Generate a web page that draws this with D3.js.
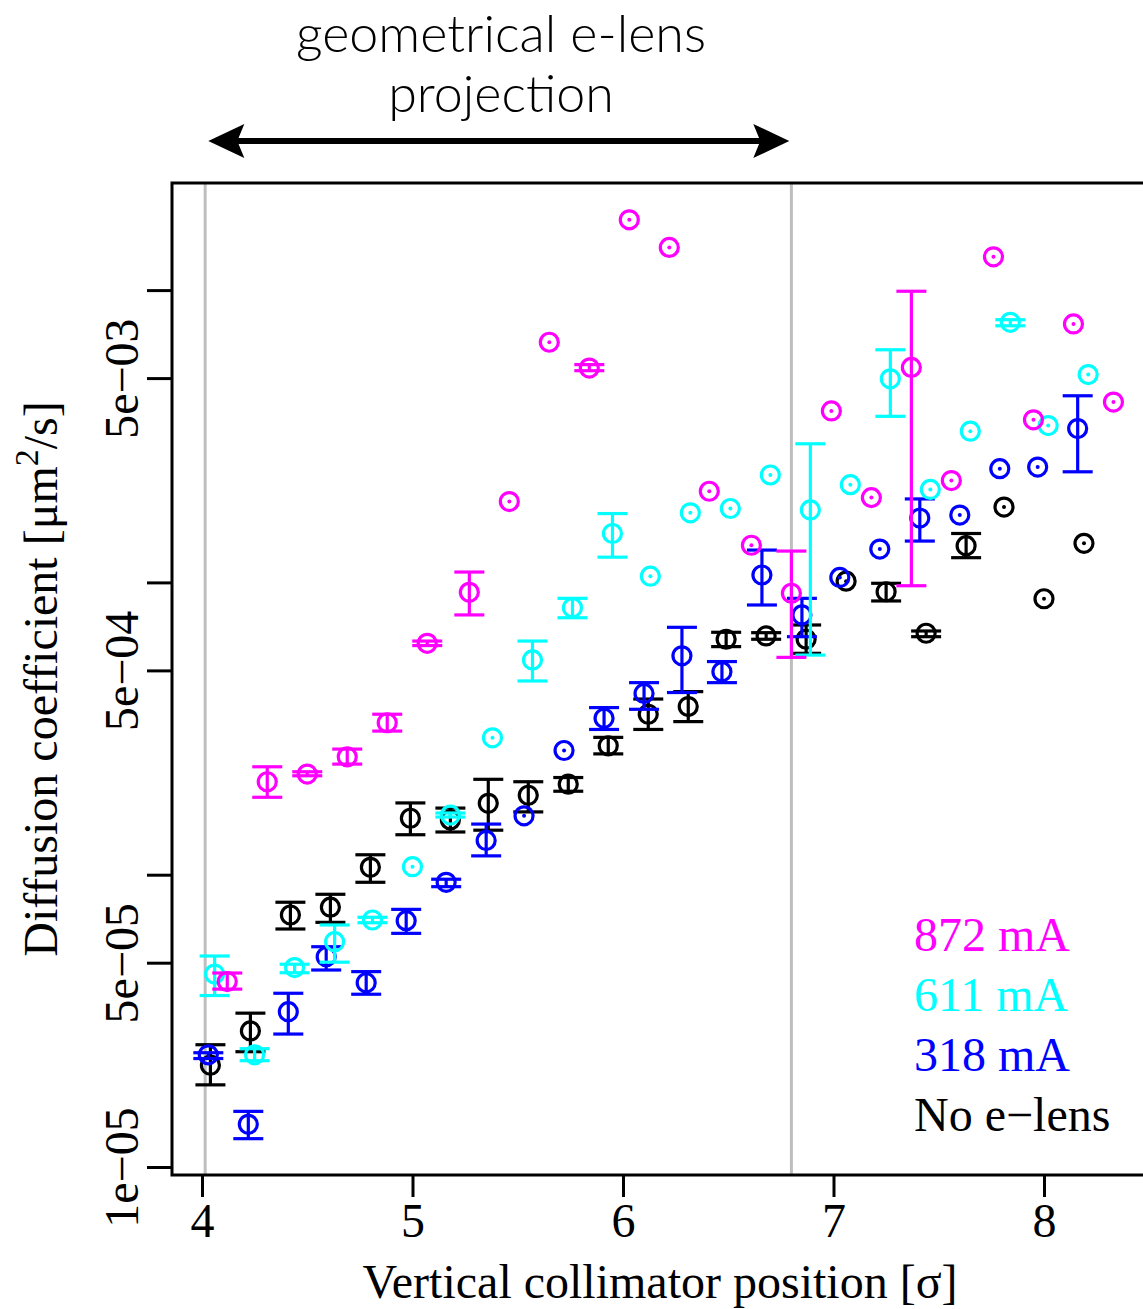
<!DOCTYPE html>
<html><head><meta charset="utf-8">
<script src="https://cdn.jsdelivr.net/npm/d3@7/dist/d3.min.js"></script>
<style>body{margin:0;background:#fff}</style>
</head><body>
<svg id="c" width="1143" height="1309"></svg>
<script>
// ---- Data ----
const xTicks = [4, 5, 6, 7, 8];
const yTicks = [1e-5, 5e-5, 1e-4, 5e-4, 1e-3, 5e-3, 1e-2];
const yTickLabels = ["1e\u221205", "5e\u221205", "", "5e\u221204", "", "5e\u221203", ""];
const lensEdges = [4.015, 6.80];
const arrowSpan = [4.03, 6.79];

const magentaX  = [4.12,4.31,4.50,4.69,4.88,5.07,5.27,5.46,5.65,5.84,6.03,6.22,6.41,6.61,6.80,6.99,7.18,7.37,7.56,7.76,7.95,8.14,8.33];
const magentaY  = [4.31e-5,2.08e-4,2.21e-4,2.53e-4,3.31e-4,6.19e-4,9.25e-4,1.89e-3,6.63e-3,5.41e-3,1.74e-2,1.40e-2,2.05e-3,1.34e-3,9.18e-4,3.86e-3,1.95e-3,5.44e-3,2.23e-3,1.30e-2,3.60e-3,7.66e-3,4.14e-3];
const magentaLo = [4.06e-5,1.84e-4,2.18e-4,2.39e-4,3.10e-4,6.08e-4,7.74e-4,null,null,5.30e-3,null,null,null,null,5.54e-4,null,null,9.74e-4,null,null,null,null,null];
const magentaHi = [4.61e-5,2.34e-4,2.25e-4,2.69e-4,3.54e-4,6.30e-4,1.085e-3,null,null,5.56e-3,null,null,null,null,1.28e-3,null,null,9.91e-3,null,null,null,null,null];

const cyanX  = [4.06,4.25,4.44,4.63,4.81,5.00,5.18,5.38,5.57,5.76,5.95,6.13,6.32,6.51,6.70,6.89,7.08,7.27,7.46,7.65,7.84,8.02,8.21];
const cyanY  = [4.57e-5,2.42e-5,4.81e-5,5.90e-5,7.00e-5,1.065e-4,1.60e-4,2.94e-4,5.43e-4,8.19e-4,1.47e-3,1.05e-3,1.73e-3,1.79e-3,2.33e-3,1.77e-3,2.16e-3,4.97e-3,2.08e-3,3.29e-3,7.76e-3,3.44e-3,5.14e-3];
const cyanLo = [3.86e-5,2.31e-5,4.62e-5,5.02e-5,6.85e-5,null,1.575e-4,null,4.60e-4,7.57e-4,1.22e-3,null,null,null,null,5.64e-4,null,3.70e-3,null,null,7.55e-3,null,null];
const cyanHi = [5.27e-5,2.54e-5,4.94e-5,6.73e-5,7.15e-5,null,1.626e-4,null,6.30e-4,8.82e-4,1.72e-3,null,null,null,null,2.98e-3,null,6.25e-3,null,null,7.92e-3,null,null];

const blueX  = [4.03,4.22,4.41,4.59,4.78,4.97,5.16,5.35,5.53,5.72,5.91,6.10,6.28,6.47,6.66,6.85,7.03,7.22,7.41,7.60,7.79,7.97,8.16];
const blueY  = [2.42e-5,1.40e-5,3.40e-5,5.24e-5,4.27e-5,6.96e-5,9.42e-5,1.31e-4,1.59e-4,2.66e-4,3.43e-4,4.17e-4,5.61e-4,4.95e-4,1.06e-3,7.74e-4,1.04e-3,1.30e-3,1.66e-3,1.70e-3,2.45e-3,2.48e-3,3.36e-3];
const blueLo = [2.35e-5,1.25e-5,2.85e-5,4.72e-5,3.90e-5,6.30e-5,9.10e-5,1.16e-4,null,null,3.14e-4,3.68e-4,4.20e-4,4.54e-4,8.37e-4,6.52e-4,null,null,1.385e-3,null,null,null,2.39e-3];
const blueHi = [2.46e-5,1.55e-5,3.93e-5,5.67e-5,4.66e-5,7.61e-5,9.65e-5,1.49e-4,null,null,3.73e-4,4.54e-4,7.02e-4,5.36e-4,1.29e-3,8.82e-4,null,null,1.93e-3,null,null,null,4.35e-3];

const blackX  = [4.04,4.23,4.42,4.61,4.80,4.99,5.18,5.36,5.55,5.74,5.93,6.12,6.31,6.49,6.68,6.87,7.06,7.25,7.44,7.63,7.81,8.00,8.19];
const blackY  = [2.23e-5,2.92e-5,7.28e-5,7.74e-5,1.06e-4,1.56e-4,1.54e-4,1.755e-4,1.87e-4,2.04e-4,2.76e-4,3.54e-4,3.76e-4,6.39e-4,6.56e-4,6.39e-4,1.01e-3,9.29e-4,6.70e-4,1.335e-3,1.81e-3,8.79e-4,1.36e-3];
const blackLo = [1.91e-5,2.48e-5,6.52e-5,6.87e-5,9.42e-5,1.37e-4,1.40e-4,1.42e-4,1.64e-4,1.93e-4,2.59e-4,3.14e-4,3.34e-4,6.03e-4,6.39e-4,5.72e-4,null,8.64e-4,6.52e-4,1.215e-3,null,null,null];
const blackHi = [2.62e-5,3.36e-5,8.05e-5,8.57e-5,1.17e-4,1.76e-4,1.69e-4,2.12e-4,2.08e-4,2.15e-4,2.95e-4,3.99e-4,4.23e-4,6.75e-4,6.73e-4,7.15e-4,null,9.93e-4,6.82e-4,1.47e-3,null,null,null];

const seriesNames  = ["No e\u2212lens", "318 mA", "611 mA", "872 mA"];
const seriesColors = ["#000000", "#0000FF", "#00FFFF", "#FF00FF"];

// ---- Drawing ----
const svg = d3.select('#c');
const L = 172, R = 1150, T = 183, B = 1175;
const x = d3.scaleLinear().domain([4, 8]).range([202, 1044]);
const y = d3.scaleLog().domain([1e-5, 1e-2]).range([1167, 290.1]);
const serif = "'Liberation Serif','Times New Roman',serif";
const fs = 48;

// title
const title = svg.append('g').attr('font-family', "Lato, 'Open Sans', sans-serif")
  .attr('font-size', 52).attr('font-weight', 300).attr('text-anchor', 'middle').attr('fill', '#000');
title.append('text').attr('x', 501).attr('y', 52).text('geometrical e-lens');
title.append('text').attr('x', 501).attr('y', 112).text('projection');

// double arrow
const ay = 141, ax1 = x(arrowSpan[0]), ax2 = x(arrowSpan[1]);
svg.append('line').attr('x1', ax1 + 20).attr('x2', ax2 - 20).attr('y1', ay).attr('y2', ay)
  .attr('stroke', '#000').attr('stroke-width', 6);
svg.append('path').attr('d', `M${ax1},${ay} L${ax1+36},${ay-17} L${ax1+29},${ay} L${ax1+36},${ay+17} Z`).attr('fill', '#000');
svg.append('path').attr('d', `M${ax2},${ay} L${ax2-36},${ay-17} L${ax2-29},${ay} L${ax2-36},${ay+17} Z`).attr('fill', '#000');

// clip for plot area
svg.append('clipPath').attr('id', 'clip').append('rect').attr('x', L).attr('y', T).attr('width', R - L).attr('height', B - T);
const plot = svg.append('g').attr('clip-path', 'url(#clip)');

// grey lines
plot.selectAll('line.edge').data(lensEdges).join('line').attr('class', 'edge')
  .attr('x1', d => x(d)).attr('x2', d => x(d)).attr('y1', T).attr('y2', B)
  .attr('stroke', '#BEBEBE').attr('stroke-width', 3);

const seriesData = [
  [blackX, blackY, blackLo, blackHi],
  [blueX, blueY, blueLo, blueHi],
  [cyanX, cyanY, cyanLo, cyanHi],
  [magentaX, magentaY, magentaLo, magentaHi]
];
const cap = 15, rad = 9;
seriesData.forEach((s, k) => {
  const col = seriesColors[k];
  const pts = s[0].map((xv, i) => ({x: xv, y: s[1][i], lo: s[2][i], hi: s[3][i]}));
  const g = plot.append('g').attr('stroke', col).attr('stroke-width', 3.2).attr('fill', 'none');
  const eb = pts.filter(p => p.lo != null);
  g.selectAll('line.v').data(eb).join('line').attr('class', 'v')
    .attr('x1', p => x(p.x)).attr('x2', p => x(p.x)).attr('y1', p => y(p.lo)).attr('y2', p => y(p.hi));
  g.selectAll('line.cl').data(eb).join('line').attr('class', 'cl')
    .attr('x1', p => x(p.x) - cap).attr('x2', p => x(p.x) + cap).attr('y1', p => y(p.lo)).attr('y2', p => y(p.lo));
  g.selectAll('line.ch').data(eb).join('line').attr('class', 'ch')
    .attr('x1', p => x(p.x) - cap).attr('x2', p => x(p.x) + cap).attr('y1', p => y(p.hi)).attr('y2', p => y(p.hi));
  g.selectAll('circle.pt').data(pts).join('circle').attr('class', 'pt')
    .attr('cx', p => x(p.x)).attr('cy', p => y(p.y)).attr('r', rad);
  plot.append('g').selectAll('circle').data(pts.filter(p => p.lo == null)).join('circle')
    .attr('cx', p => x(p.x)).attr('cy', p => y(p.y)).attr('r', 2).attr('fill', col);
});

// frame
svg.append('rect').attr('x', L).attr('y', T).attr('width', R - L).attr('height', B - T)
  .attr('fill', 'none').attr('stroke', '#000').attr('stroke-width', 3);

// x axis
const xa = svg.append('g').attr('transform', `translate(0,${B})`)
  .call(d3.axisBottom(x).tickValues(xTicks).tickSize(22).tickFormat(d3.format('d')));
xa.select('.domain').remove();
xa.selectAll('line').attr('stroke', '#000').attr('stroke-width', 3);
xa.selectAll('text').attr('font-family', serif).attr('font-size', fs).attr('fill', '#000')
  .attr('dy', null).attr('y', 62);

// y axis
const ya = svg.append('g').attr('transform', `translate(${L},0)`)
  .call(d3.axisLeft(y).tickValues(yTicks).tickSize(25).tickFormat((d, i) => yTickLabels[i]));
ya.select('.domain').remove();
ya.selectAll('line').attr('stroke', '#000').attr('stroke-width', 3);
ya.selectAll('text').attr('font-family', serif).attr('font-size', fs).attr('fill', '#000')
  .attr('text-anchor', 'middle').attr('dy', null).attr('x', null).attr('y', null)
  .attr('transform', 'translate(-34,0) rotate(-90)');

// axis titles
svg.append('text').attr('x', 660).attr('y', 1298).attr('text-anchor', 'middle')
  .attr('font-family', serif).attr('font-size', fs).text('Vertical collimator position [\u03c3]');
const yt = svg.append('text').attr('transform', 'translate(57,679) rotate(-90)').attr('text-anchor', 'middle')
  .attr('font-family', serif).attr('font-size', fs);
yt.append('tspan').text('Diffusion coefficient [\u03bcm');
yt.append('tspan').attr('font-size', 34).attr('dy', -19).text('2');
yt.append('tspan').attr('dy', 19).text('/s]');

// legend
const legOrder = [3, 2, 1, 0];
svg.append('g').selectAll('text').data(legOrder).join('text')
  .attr('x', 914).attr('y', (d, i) => 951 + i * 60)
  .attr('font-family', serif).attr('font-size', fs)
  .attr('fill', d => seriesColors[d]).text(d => seriesNames[d]);
</script>
</body></html>
